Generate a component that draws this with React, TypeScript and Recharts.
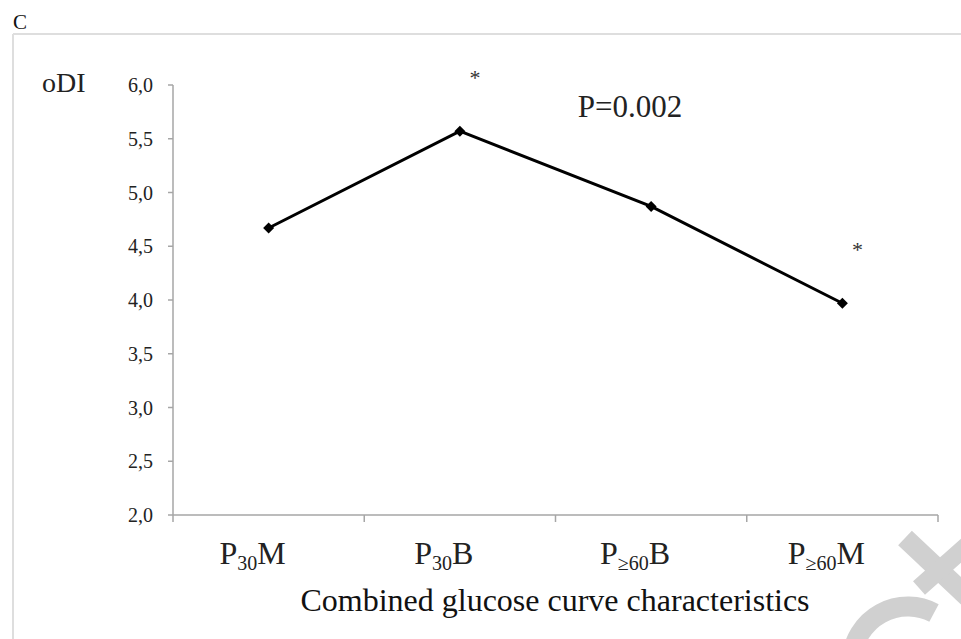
import { LineChart, Line, XAxis, YAxis, LabelList } from 'recharts';

const categories = ['P30M', 'P30B', 'P≥60B', 'P≥60M'];
const odi = [4.67, 5.57, 4.87, 3.97];
const significance = ['', '*', '', '*'];
const yTicks = [2, 2.5, 3, 3.5, 4, 4.5, 5, 5.5, 6];

const data = categories.map((name, i) => ({ name, odi: odi[i], sig: significance[i] }));

const SERIF = "'Liberation Serif', 'Times New Roman', serif";
const AXIS = '#a6a6a6';
const PLOT_W = 765;
const BAND = PLOT_W / categories.length;

function CategoryTick(props: any) {
  const { x, y, payload, index } = props;
  const m = String(payload.value).match(/^P(.+?)([MB])$/);
  const sub = m ? m[1] : '';
  const tail = m ? m[2] : '';
  return (
    <g>
      {index === 0 && <line x1={x - BAND / 2} x2={x - BAND / 2} y1={y} y2={y + 7} stroke={AXIS} strokeWidth={1.5} />}
      <line x1={x + BAND / 2} x2={x + BAND / 2} y1={y} y2={y + 7} stroke={AXIS} strokeWidth={1.5} />
      <text x={x - 16} y={y + 49} textAnchor="middle" fontFamily={SERIF} fontSize={32} fill="#222">
        P
        <tspan fontSize={20} dy={6}>{sub}</tspan>
        <tspan dy={-6}>{tail}</tspan>
      </text>
    </g>
  );
}

function ValueTick(props: any) {
  const { x, y, payload } = props;
  return (
    <text x={x} y={y} dy={7} textAnchor="end" fontFamily={SERIF} fontSize={20} fill="#222">
      {Number(payload.value).toFixed(1).replace('.', ',')}
    </text>
  );
}

function Diamond(props: any) {
  const { cx, cy } = props;
  if (cx == null || cy == null) return null;
  const r = 5.5;
  return <polygon points={`${cx},${cy - r} ${cx + r},${cy} ${cx},${cy + r} ${cx - r},${cy}`} fill="#000" />;
}

function Star(props: any) {
  const { x, y, value } = props;
  if (!value) return null;
  return (
    <text x={x + 15} y={y - 46} textAnchor="middle" fontFamily={SERIF} fontSize={22} fill="#333">
      {value}
    </text>
  );
}

export default function App() {
  return (
    <div style={{ position: 'absolute', left: 0, top: 0, width: 961, height: 639, background: '#fff', fontFamily: SERIF }}>
      <LineChart width={961} height={639} data={data} margin={{ top: 85, right: 23, bottom: 64, left: 113 }}>
        <XAxis
          dataKey="name"
          height={60}
          stroke={AXIS}
          strokeWidth={1.5}
          tickLine={false}
          tickSize={0}
          tickMargin={0}
          tick={<CategoryTick />}
          interval={0}
          padding={{ left: BAND / 2, right: BAND / 2 }}
        />
        <YAxis
          width={60}
          domain={[2, 6]}
          ticks={yTicks}
          stroke={AXIS}
          strokeWidth={1.5}
          tickSize={5}
          tickMargin={15}
          tick={<ValueTick />}
        />
        <Line
          type="linear"
          dataKey="odi"
          stroke="#000"
          strokeWidth={3}
          dot={<Diamond />}
          activeDot={false}
          isAnimationActive={false}
        >
          <LabelList dataKey="sig" content={<Star />} />
        </Line>
      </LineChart>
      <svg width={961} height={639} style={{ position: 'absolute', left: 0, top: 0, pointerEvents: 'none' }}>
        <line x1={13} y1={34} x2={961} y2={34} stroke="#dedede" strokeWidth={2} />
        <line x1={13} y1={34} x2={13} y2={639} stroke="#dedede" strokeWidth={2} />
        <text x={13} y={29} fontFamily={SERIF} fontSize={21} fill="#111">C</text>
        <text x={42} y={92} fontFamily={SERIF} fontSize={28} fill="#222">oDI</text>
        <text x={630} y={117} textAnchor="middle" fontFamily={SERIF} fontSize={31} fill="#222">P=0.002</text>
        <text x={555} y={611} textAnchor="middle" fontFamily={SERIF} fontSize={32} fill="#111">
          Combined glucose curve characteristics
        </text>
        <g stroke="#d0d0d0" fill="none">
          <line x1={905} y1={538} x2={990} y2={618} strokeWidth={20} />
          <line x1={919} y1={588} x2={990} y2={525} strokeWidth={18} />
          <path d="M 934 613 A 56 56 0 0 0 852 658" strokeWidth={20} />
        </g>
      </svg>
    </div>
  );
}
